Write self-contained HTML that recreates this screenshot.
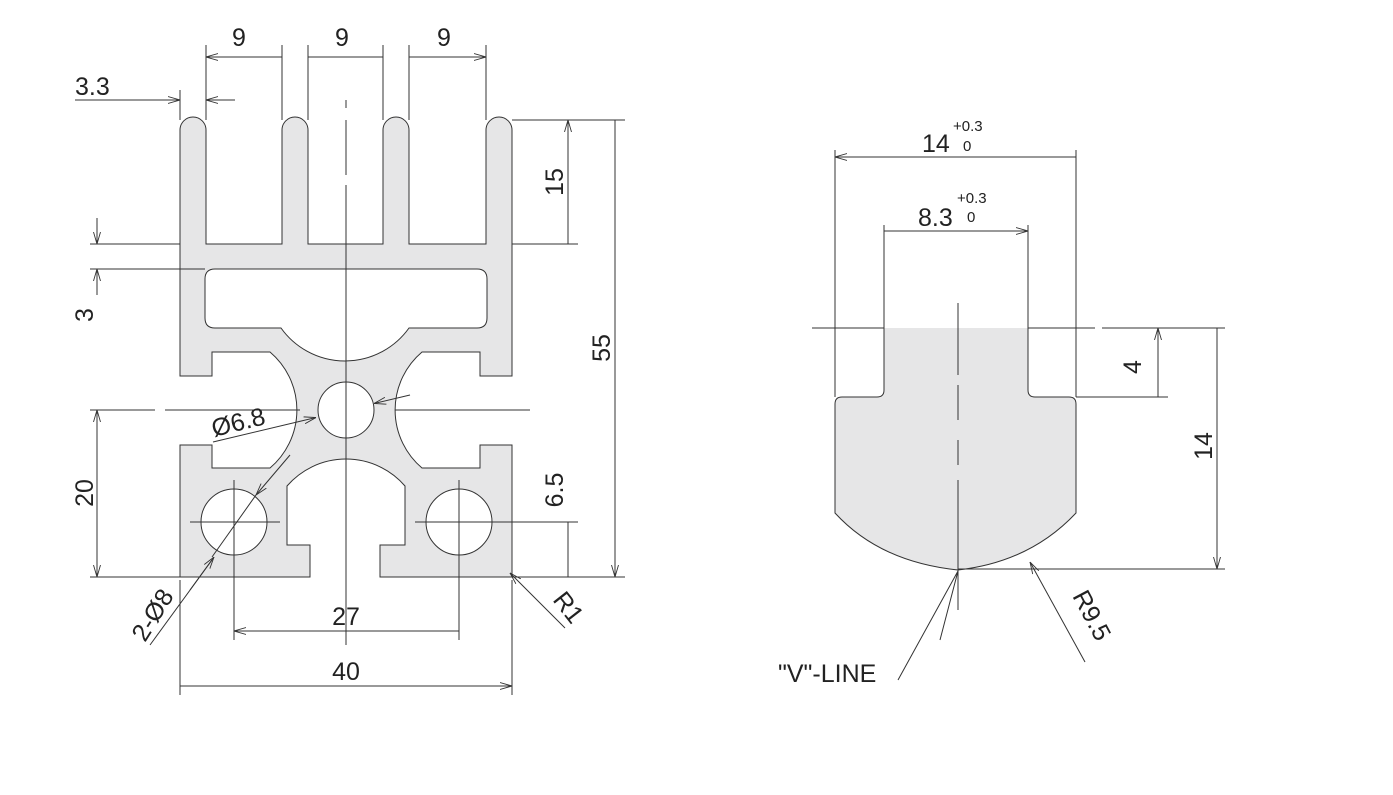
<!DOCTYPE html>
<html><head><meta charset="utf-8"><style>
html,body{margin:0;padding:0;background:#fff;}
svg{display:block;}
text{font-family:"Liberation Sans",Arial,sans-serif;fill:#222;}
</style></head><body>
<svg width="1393" height="795" viewBox="0 0 1393 795" xmlns="http://www.w3.org/2000/svg">
<defs>
<marker id="a" viewBox="0 0 12 8" refX="12" refY="4" markerWidth="12" markerHeight="8" markerUnits="userSpaceOnUse" orient="auto-start-reverse">
<path d="M0,0.5 L12,4 L0,7.5" fill="none" stroke="#333" stroke-width="0.9"/>
</marker>
</defs>
<g stroke="#333" stroke-width="1" fill="none">
<path fill="#e6e6e7" fill-rule="evenodd" d="
M180,577 L180,445 L212,445 L212,468 L270,468 A76,76 0 0 0 270,352 L212,352 L212,376 L180,376
L180,130 A13,13 0 0 1 206,130 L206,244 L282,244 L282,130 A13,13 0 0 1 308,130 L308,244 L383,244 L383,130 A13,13 0 0 1 409,130 L409,244 L486,244 L486,130 A13,13 0 0 1 512,130
L512,376 L480,376 L480,352 L422,352 A76,76 0 0 0 422,468 L480,468 L480,445 L512,445 L512,577
L380,577 L380,545 L405,545 L405,486 A78,78 0 0 0 287,486 L287,545 L310,545 L310,577 Z
M215,269 L477,269 Q487,269 487,279 L487,318 Q487,328 477,328 L409,328 A78.6,78.6 0 0 1 281,328 L215,328 Q205,328 205,318 L205,279 Q205,269 215,269 Z
M374,410 A28,28 0 1 0 318,410 A28,28 0 1 0 374,410 Z
M267,522 A33,33 0 1 0 201,522 A33,33 0 1 0 267,522 Z
M492,522 A33,33 0 1 0 426,522 A33,33 0 1 0 492,522 Z"/>
<path d="M346,100 V108 M346,120 V175 M346,185 V645"/>
<path d="M90,410 H155 M165,410 H300 M395,410 H530"/>
<path d="M190,522 H280 M234,480 V640 M415,522 H500 M459,480 V640"/>
<path d="M206,45 V120 M282,45 V120 M308,45 V120 M383,45 V120 M409,45 V120 M486,45 V120 M180,90 V120"/>
<path d="M206,57 H282 M308,57 H383 M409,57 H486" marker-start="url(#a)" marker-end="url(#a)"/>
<path d="M160,100 H180" marker-end="url(#a)"/><path d="M235,100 H206" marker-end="url(#a)"/>
<path d="M75,100 H160"/>
<path d="M512,120 H625 M512,244 H578 M490,522 H578 M512,577 H625"/>
<path d="M568,120 V244 M568,522 V577 M615,120 V577" marker-start="url(#a)" marker-end="url(#a)"/>
<path d="M90,244 H180 M90,269 H205 M90,577 H180"/>
<path d="M97,218 V244" marker-end="url(#a)"/><path d="M97,295 V269" marker-end="url(#a)"/>
<path d="M97,410 V577" marker-start="url(#a)" marker-end="url(#a)"/>
<path d="M180,580 V695 M512,580 V695"/>
<path d="M234,631 H459 M180,686 H512" marker-start="url(#a)" marker-end="url(#a)"/>
<path d="M213,442 L316,417.5" marker-end="url(#a)"/>
<path d="M410,395 L374,403.5" marker-end="url(#a)"/>
<path d="M150,645 L212,560" /><path d="M190,590 L214,557" marker-end="url(#a)"/>
<path d="M290,455 L256,495" marker-end="url(#a)"/><path d="M256,495 L212,557"/>
<path d="M565,628 L510,573" marker-end="url(#a)"/>

<path fill="#e6e6e7" stroke="none" d="M884,328 L1028,328 L1028,397 L884,397 Z"/>
<path fill="#e6e6e7" d="M884,328 L884,390 Q884,397 877,397 L842,397 Q835,397 835,404 L835,513 Q880,562 958,570 Q1030,562 1076,513 L1076,404 Q1076,397 1069,397 L1035,397 Q1028,397 1028,390 L1028,328"/>
<path d="M812,328 H884 M1028,328 H1095 M1102,328 H1225 M1076,397 H1168 M958,569 H1225"/>
<path d="M958,303 V375 M958,385 V420 M958,440 V465 M958,480 V610"/>
<path d="M835,150 V397 M1076,150 V397 M884,225 V328 M1028,225 V328"/>
<path d="M835,157 H1076 M884,231 H1028" marker-start="url(#a)" marker-end="url(#a)"/>
<path d="M1158,328 V397 M1217,328 V569" marker-start="url(#a)" marker-end="url(#a)"/>
<path d="M898,680 L958,571 M940,640 L958,571"/>
<path d="M1085,662 L1030,562" marker-end="url(#a)"/>
</g>
<g font-size="25">
<text x="232" y="46">9</text><text x="335" y="46">9</text><text x="437" y="46">9</text>
<text x="75" y="95">3.3</text>
<text transform="translate(563,182) rotate(-90)" text-anchor="middle">15</text>
<text transform="translate(610,348) rotate(-90)" text-anchor="middle">55</text>
<text transform="translate(563,490) rotate(-90)" text-anchor="middle">6.5</text>
<text transform="translate(93,315) rotate(-90)" text-anchor="middle">3</text>
<text transform="translate(93,493) rotate(-90)" text-anchor="middle">20</text>
<text transform="translate(214,437) rotate(-14)">Ø6.8</text>
<text transform="translate(145,643) rotate(-58)">2-Ø8</text>
<text transform="translate(552,600) rotate(52)">R1</text>
<text x="346" y="625" text-anchor="middle">27</text>
<text x="346" y="680" text-anchor="middle">40</text>
<text x="922" y="152">14</text>
<text x="953" y="131" font-size="15">+0.3</text><text x="963" y="151" font-size="15">0</text>
<text x="918" y="226">8.3</text>
<text x="957" y="203" font-size="15">+0.3</text><text x="967" y="222" font-size="15">0</text>
<text transform="translate(1141,367) rotate(-90)" text-anchor="middle">4</text>
<text transform="translate(1212,446) rotate(-90)" text-anchor="middle">14</text>
<text transform="translate(1072,596) rotate(62)">R9.5</text>
<text x="778" y="682">"V"-LINE</text>
</g>
</svg>
</body></html>
